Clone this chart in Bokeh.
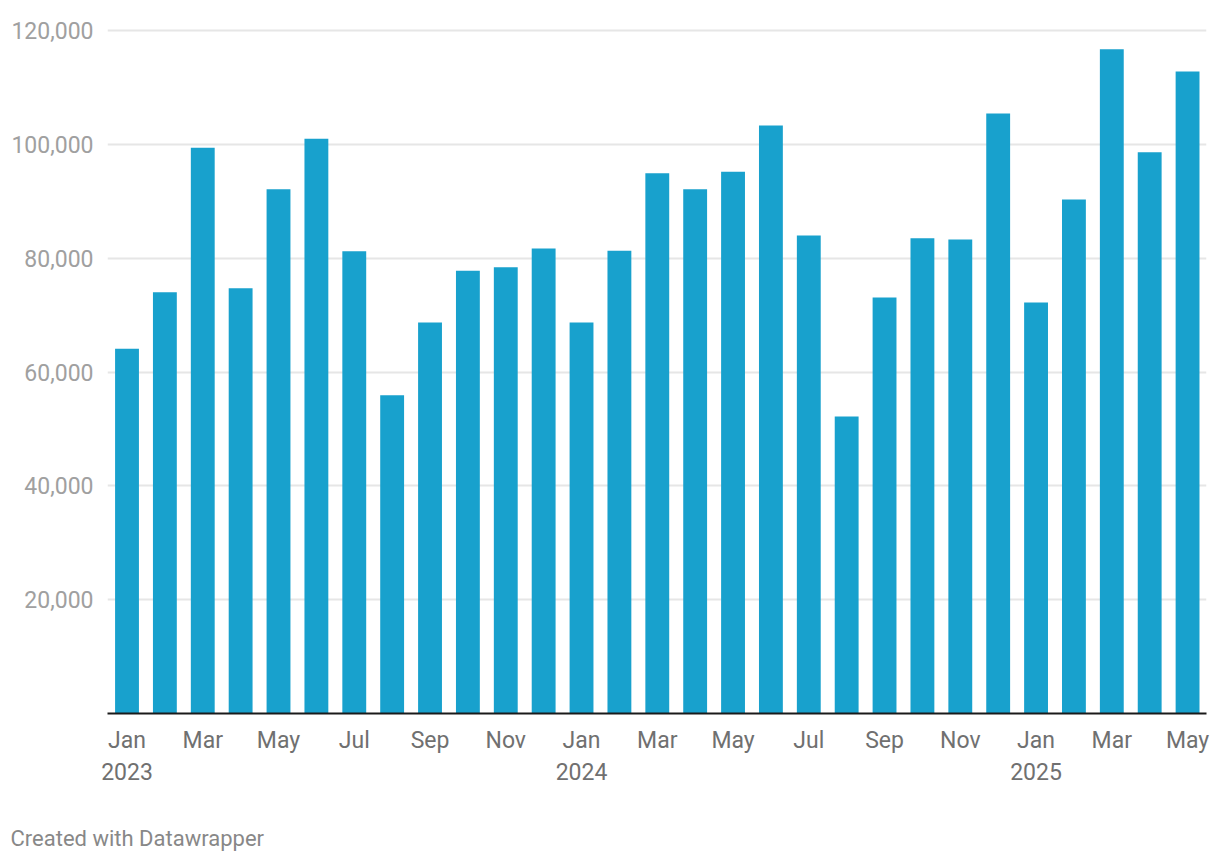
from bokeh.plotting import figure
from bokeh.models import Range1d, FixedTicker, NumeralTickFormatter, Title
from bokeh.embed import file_html
from bokeh.resources import INLINE

months = ["Jan", "Feb", "Mar", "Apr", "May", "Jun", "Jul", "Aug", "Sep", "Oct", "Nov", "Dec",
          "Jan", "Feb", "Mar", "Apr", "May", "Jun", "Jul", "Aug", "Sep", "Oct", "Nov", "Dec",
          "Jan", "Feb", "Mar", "Apr", "May"]
years = [2023] * 12 + [2024] * 12 + [2025] * 5
values = [64100, 74000, 99400, 74700, 92100, 101000, 81200, 55900, 68700, 77800, 78400, 81700,
          68700, 81300, 94900, 92100, 95200, 103300, 84000, 52200, 73100, 83500, 83300, 105400,
          72200, 90300, 116700, 98600, 112800]
y_ticks = [20000, 40000, 60000, 80000, 100000, 120000]

idx = list(range(len(values)))

p = figure(width=1212, height=866, output_backend="svg", toolbar_location=None,
           x_range=Range1d(-0.515, 28.5), y_range=Range1d(0, 120880),
           min_border_left=107, min_border_right=6, min_border_top=25, min_border_bottom=153)
p.outline_line_color = None
p.background_fill_color = "white"
p.border_fill_color = "white"

p.vbar(x=idx, top=values, width=0.63, bottom=0, color="#18a1cd", line_color=None)

# x axis
tick_pos = idx[::2]
overrides = {}
for i in tick_pos:
    lab = months[i]
    if months[i] == "Jan":
        lab = f"{months[i]}\n{years[i]}"
    overrides[i] = lab
p.xaxis.ticker = FixedTicker(ticks=tick_pos)
p.xaxis.major_label_overrides = overrides
p.xaxis.axis_line_color = "#1a1a1a"
p.xaxis.axis_line_width = 2
p.xaxis.major_tick_line_color = None
p.xaxis.minor_tick_line_color = None
p.xaxis.major_label_text_font = "Roboto"
p.xaxis.major_label_text_font_size = "23px"
p.xaxis.major_label_text_color = "#707070"
p.xaxis.major_label_standoff = 7
p.xgrid.grid_line_color = None

# y axis
p.yaxis.ticker = FixedTicker(ticks=y_ticks)
p.yaxis.formatter = NumeralTickFormatter(format="0,0")
p.yaxis.axis_line_color = None
p.yaxis.major_tick_line_color = None
p.yaxis.minor_tick_line_color = None
p.yaxis.major_label_text_font = "Roboto"
p.yaxis.major_label_text_font_size = "23px"
p.yaxis.major_label_text_color = "#a0a0a0"
p.yaxis.major_label_standoff = 8
p.ygrid.grid_line_color = "#e6e6e6"
p.ygrid.grid_line_width = 2

credit = Title(text="\nCreated with Datawrapper", align="left", offset=-97,
               text_font="Roboto", text_font_size="22px", text_font_style="normal",
               text_color="#888888", standoff=20)
p.add_layout(credit, "below")

open("out.html", "w").write(file_html(p, INLINE))
